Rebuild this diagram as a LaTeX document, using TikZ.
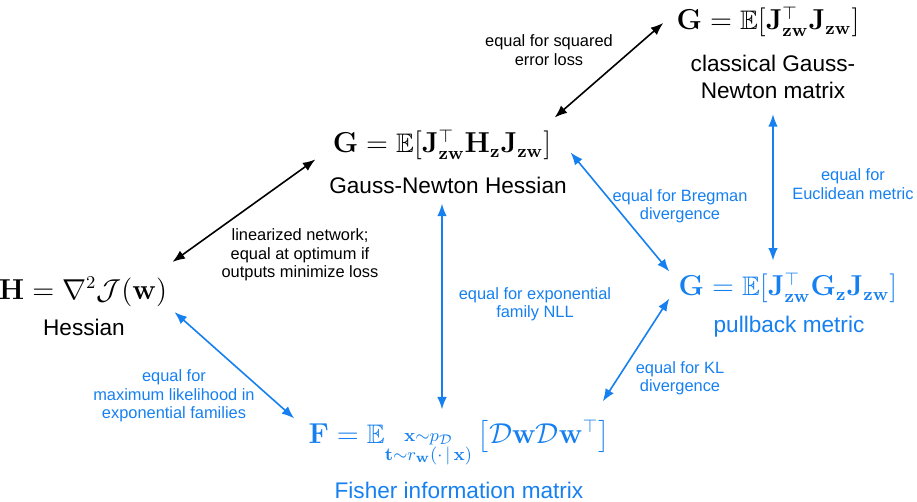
\documentclass[tikz,border=0pt]{standalone}
\usepackage{amsmath,amssymb}
\usepackage[no-math]{fontspec}
\newfontfamily\helv{Liberation Sans}
\usetikzlibrary{arrows.meta,positioning}
\definecolor{eqblue}{RGB}{22,128,240}

\begin{document}
\begin{tikzpicture}[x=0.5pt,y=-0.5pt,
    formula/.style={inner sep=1pt,font=\fontsize{13.4}{16}\selectfont},
    nametxt/.style={inner sep=1pt,align=center,font=\helv\fontsize{11.3}{13.5}\selectfont},
    lbl/.style={inner sep=1pt,align=center,font=\helv\fontsize{8.2}{9.2}\selectfont},
    biarr/.style={{Latex[length=2.2mm,width=1.7mm]}-{Latex[length=2.2mm,width=1.7mm]},line width=0.8pt},
    bluearr/.style={biarr,draw=eqblue}]
\useasboundingbox (0,0) rectangle (917,502);
% the five matrices
\node[formula] (cgn) at (768,22) {$\mathbf{G}=\mathbb{E}[\mathbf{J}_{\mathbf{zw}}^{\top}\mathbf{J}_{\mathbf{zw}}]$};
\node[nametxt] (cgntxt) at (773,77) {classical Gauss-\\Newton matrix};
\node[formula] (gnh) at (442,145) {$\mathbf{G}=\mathbb{E}[\mathbf{J}_{\mathbf{zw}}^{\top}\mathbf{H}_{\mathbf{z}}\mathbf{J}_{\mathbf{zw}}]$};
\node[nametxt] (gnhtxt) at (448,185) {Gauss-Newton Hessian};
\node[formula] (hess) at (83,292) {$\mathbf{H}=\nabla^2\mathcal{J}(\mathbf{w})$};
\node[nametxt] (hesstxt) at (84,327) {Hessian};
\node[formula,text=eqblue] (pull) at (788,288) {$\mathbf{G}=\mathbb{E}[\mathbf{J}_{\mathbf{zw}}^{\top}\mathbf{G}_{\mathbf{z}}\mathbf{J}_{\mathbf{zw}}]$};
\node[nametxt,text=eqblue] (pulltxt) at (789,327) {pullback metric};
\node[formula,text=eqblue] (fisher) at (459,442) {$\mathbf{F}=\mathbb{E}_{\substack{\mathbf{x}\sim p_{\mathcal{D}}\\ \mathbf{t}\sim r_{\mathbf{w}}(\cdot\,|\,\mathbf{x})}}\,\bigl[\mathcal{D}\mathbf{w}\mathcal{D}\mathbf{w}^{\top}\bigr]$};
\node[nametxt,text=eqblue] (fishertxt) at (459,490) {Fisher information matrix};
% labels
\node[lbl] (sq) at (549,50) {equal for squared\\error loss};
\node[lbl] (lin) at (300,255) {linearized network;\\equal at optimum if\\outputs minimize loss};
\node[lbl,text=eqblue] (nll) at (535,304) {equal for exponential\\family NLL};
\node[lbl,text=eqblue] (breg) at (680,206) {equal for Bregman\\divergence};
\node[lbl,text=eqblue] (eucl) at (853,184) {equal for\\Euclidean metric};
\node[lbl,text=eqblue] (ml) at (174,396) {equal for\\maximum likelihood in\\exponential families};
\node[lbl,text=eqblue] (kl) at (680,378) {equal for KL\\divergence};
% arrows
\coordinate (vtop) at (gnhtxt.south -| gnh.center);
\coordinate (vbot) at (gnh.center |- fisher.north);
\coordinate (etop) at (cgntxt.south);
\coordinate (ebot) at (cgntxt.south |- pull.north);
\draw[biarr] ([shift={(1,-10)}]gnh.north east) -- ([shift={(-11,1)}]cgn.west);
\draw[biarr] ([shift={(3,-13)}]hess.north east) -- ([shift={(-15,-3)}]gnh.south west);
\draw[bluearr] ([shift={(0,8)}]vtop) -- ([shift={(0,-7)}]vbot);
\draw[bluearr] ([shift={(17,-10)}]gnh.south east) -- ([shift={(-7,1)}]pull.north west);
\draw[bluearr] ([shift={(0,13)}]etop) -- ([shift={(0,-10)}]ebot);
\draw[bluearr] ([shift={(5,3)}]hess.south east) -- ([shift={(-12,2)}]fisher.north west);
\draw[bluearr] ([shift={(-7,-7)}]pull.south west) -- ([shift={(-9,-15)}]fisher.north east);
\end{tikzpicture}
\end{document}
